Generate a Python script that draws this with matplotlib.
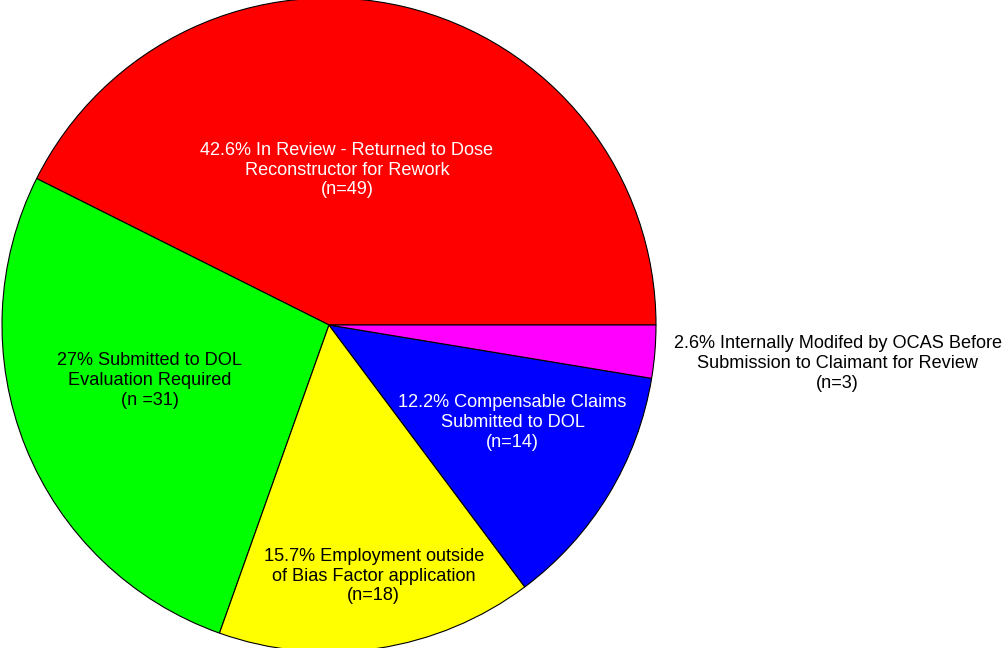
import numpy as np
import matplotlib
matplotlib.use('Agg')
import matplotlib.pyplot as plt

plt.rcParams['font.family'] = ['Liberation Sans', 'DejaVu Sans']

# data
labels = ['42.6% In Review - Returned to Dose\nReconstructor for Rework\n(n=49)',
          '27% Submitted to DOL\nEvaluation Required\n(n =31)',
          '15.7% Employment outside\nof Bias Factor application\n(n=18)',
          '12.2% Compensable Claims\nSubmitted to DOL\n(n=14)',
          '2.6% Internally Modifed by OCAS Before\nSubmission to Claimant for Review\n(n=3)']
counts = [49, 31, 18, 14, 3]
colors = ['#ff0000', '#00ff00', '#ffff00', '#0000ff', '#ff00ff']
text_colors = ['white', 'black', 'black', 'white', 'black']
# label placement: angle offset from wedge middle (deg) and distance as fraction of radius
lab_shift = [6.7, -4.6, 1.5, 3.4, 0.4]
lab_dist = [0.477, 0.574, 0.78, 0.635, 1.56]

fig = plt.figure(figsize=(10.07, 6.48), dpi=100)
ax = fig.add_axes([0, 0, 1, 1])

cx, cy, R = 329, 323, 327
wedges, _ = ax.pie(counts, colors=colors, startangle=0, counterclock=True,
                   center=(cx, cy), radius=R, frame=True,
                   wedgeprops={'edgecolor': 'black', 'linewidth': 0.8})
ax.set_xlim(0, 1007)
ax.set_ylim(0, 648)
ax.set_aspect('equal')
ax.axis('off')

for w, lab, tc, sh, d in zip(wedges, labels, text_colors, lab_shift, lab_dist):
    ang = np.deg2rad((w.theta1 + w.theta2) / 2 + sh)
    x = cx + d * R * np.cos(ang)
    y = cy + d * R * np.sin(ang)
    ax.text(x, y, lab, ha='center', va='center', color=tc, fontsize=13.1,
            linespacing=1.22, multialignment='center')

fig.savefig('out.png', dpi=100)
